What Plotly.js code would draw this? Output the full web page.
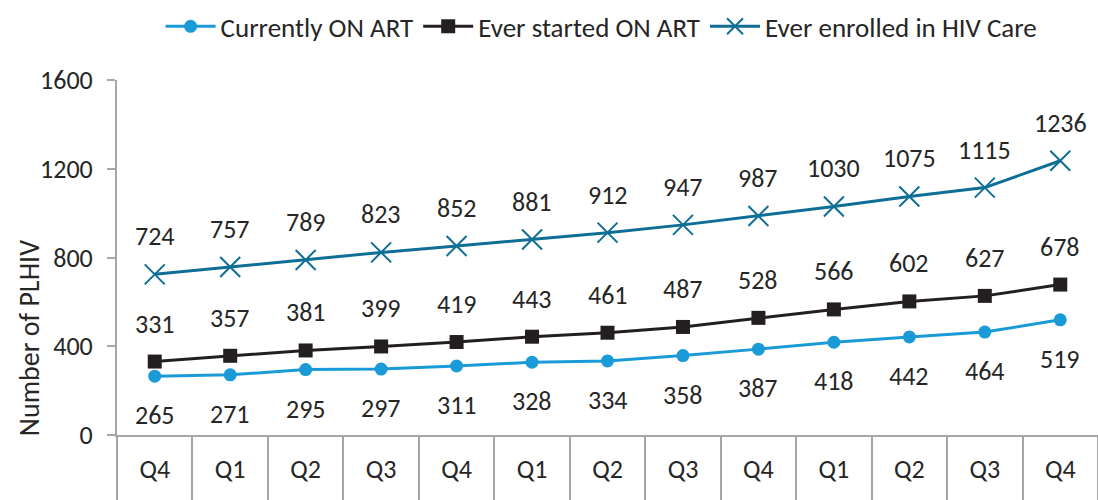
<!DOCTYPE html>
<html>
<head>
<meta charset="utf-8">
<script src="https://cdn.plot.ly/plotly-3.0.1.min.js"></script>
<style>
  html, body { margin: 0; padding: 0; background: #fff; }
  #chart { width: 1098px; height: 500px; }
</style>
</head>
<body>
<div id="chart"></div>
<script>
// ── Data ──────────────────────────────────────────────────────────────────
const quarters = ['Q4', 'Q1', 'Q2', 'Q3', 'Q4', 'Q1', 'Q2', 'Q3', 'Q4', 'Q1', 'Q2', 'Q3', 'Q4'];
const currentlyOnArt = [265, 271, 295, 297, 311, 328, 334, 358, 387, 418, 442, 464, 519];
const everStartedArt = [331, 357, 381, 399, 419, 443, 461, 487, 528, 566, 602, 627, 678];
const everEnrolled = [724, 757, 789, 823, 852, 881, 912, 947, 987, 1030, 1075, 1115, 1236];

const FONT = 'Carlito, "Liberation Sans", Arial, sans-serif';
const GREY = '#a6a6a6';
const TXT = '#262626';
const FS = 26;

const idx = quarters.map((_, i) => i);
const bounds = quarters.map((_, i) => i - 0.5).concat([quarters.length - 0.5]);

const traces = [
  {
    x: idx, y: currentlyOnArt,
    type: 'scatter', mode: 'lines+markers',
    line: { color: '#1a9bd7', width: 3 },
    marker: { symbol: 'circle', size: 13, color: '#1a9bd7' },
    name: 'Currently ON ART',
  },
  {
    x: idx, y: everStartedArt,
    type: 'scatter', mode: 'lines+markers',
    line: { color: '#231f20', width: 3 },
    marker: { symbol: 'square', size: 14, color: '#231f20' },
    name: 'Ever started ON ART',
  },
  {
    x: idx, y: everEnrolled,
    type: 'scatter', mode: 'lines+markers',
    line: { color: '#0f6e96', width: 3 },
    marker: { symbol: 'x-thin', size: 20, line: { color: '#0f6e96', width: 2 } },
    name: 'Ever enrolled in HIV Care',
  },
];

// ── Data labels ───────────────────────────────────────────────────────────
function labels(vals, shift) {
  return vals.map((v, i) => ({
    x: i, y: v, xref: 'x', yref: 'y',
    text: String(v), showarrow: false, yshift: shift,
    font: { family: FONT, size: FS, color: TXT },
  }));
}
const annotations = [].concat(
  labels(currentlyOnArt, -39),
  labels(everStartedArt, 38),
  labels(everEnrolled, 38),
);

// y axis title sits lower than the plot centre, as in the source chart
annotations.push({
  xref: 'paper', yref: 'paper', x: -0.089, y: 0.272,
  xanchor: 'center', yanchor: 'middle', textangle: -90,
  text: 'Number of PLHIV', showarrow: false,
  font: { family: FONT, size: 28, color: TXT },
});

const layout = {
  width: 1098, height: 500,
  margin: { l: 117, r: 0, t: 80, b: 65 },
  paper_bgcolor: '#fff', plot_bgcolor: '#fff',
  font: { family: FONT, size: FS, color: TXT },
  showlegend: true,
  legend: {
    orientation: 'h', x: 0.494, xanchor: 'center', y: 1.15, yanchor: 'middle',
    font: { family: FONT, size: 27, color: TXT }, itemwidth: 50,
    traceorder: 'normal',
  },
  xaxis: {
    range: [-0.5, quarters.length - 0.5],
    tickmode: 'array', tickvals: idx, ticktext: quarters,
    ticks: '', showgrid: false, zeroline: false,
    showline: true, linecolor: GREY, linewidth: 2,
    ticklabelstandoff: 10,
    tickfont: { family: FONT, size: FS, color: TXT },
  },
  xaxis2: {
    overlaying: 'x', side: 'bottom', anchor: 'y',
    range: [-0.5, quarters.length - 0.5],
    tickmode: 'array', tickvals: bounds, ticktext: bounds.map(() => ''),
    ticks: 'outside', ticklen: 70, tickwidth: 2, tickcolor: GREY,
    showgrid: false, zeroline: false, showticklabels: false, showline: false,
  },
  yaxis: {
    range: [0, 1600], dtick: 400, tick0: 0,
    ticks: 'outside', ticklen: 8, tickwidth: 2, tickcolor: GREY,
    showline: true, linecolor: GREY, linewidth: 2,
    showgrid: false, zeroline: false,
    ticklabelstandoff: 9,
    tickfont: { family: FONT, size: FS, color: TXT },
  },
  annotations,
};

// invisible trace so xaxis2 is drawn
traces.push({ x: [0], y: [0], xaxis: 'x2', yaxis: 'y', mode: 'markers', marker: { opacity: 0 }, showlegend: false, hoverinfo: 'skip' });

Plotly.newPlot('chart', traces, layout, { displayModeBar: false, staticPlot: true });
</script>
</body>
</html>
